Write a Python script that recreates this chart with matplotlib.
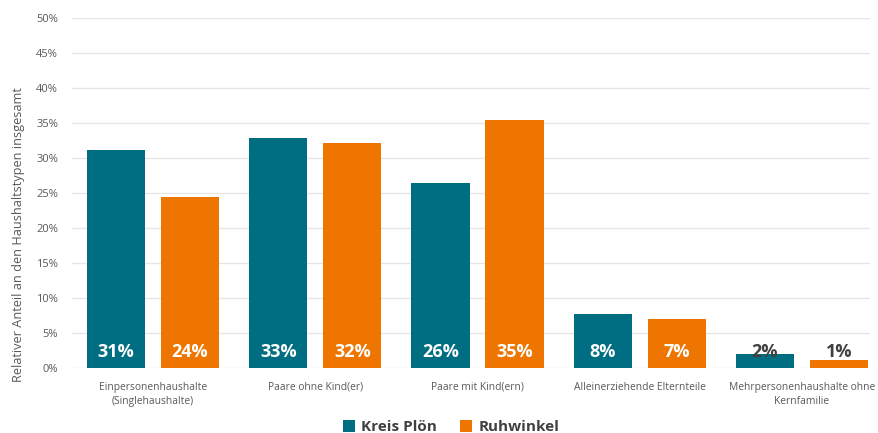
import matplotlib.pyplot as plt
import numpy as np

categories = ['Einpersonenhaushalte\n(Singlehaushalte)', 'Paare ohne Kind(er)',
              'Paare mit Kind(ern)', 'Alleinerziehende Elternteile',
              'Mehrpersonenhaushalte ohne\nKernfamilie']
kreis_ploen = [31.1, 32.9, 26.5, 7.7, 2.0]
ruhwinkel = [24.4, 32.1, 35.4, 7.0, 1.1]
series_names = ['Kreis Plön', 'Ruhwinkel']
colors = ['#006E82', '#EE7600']

plt.rcParams['font.family'] = ['Open Sans', 'DejaVu Sans']

fig = plt.figure(figsize=(8.79, 4.33), dpi=100)
ax = fig.add_axes([72 / 879, 1 - 368 / 433, 798 / 879, 350 / 433])

x = np.arange(len(categories))
offset = 0.228
width = 0.358

for vals, sign, color, name in zip([kreis_ploen, ruhwinkel], [-1, 1], colors, series_names):
    ax.bar(x + sign * offset, vals, width, color=color, label=name, zorder=3)
    for xi, v in zip(x + sign * offset, vals):
        txt_color = 'white' if v > 5 else '#404040'
        ax.text(xi, 2.3, f'{round(v):.0f}%', ha='center', va='center',
                color=txt_color, fontsize=13, fontweight='bold', zorder=4)

ax.set_xlim(-0.5, 4.42)
ax.set_ylim(0, 50)
ax.set_yticks(np.arange(0, 51, 5))
ax.set_yticklabels([f'{t}%' for t in range(0, 51, 5)], fontsize=8, color='#595959')
ax.set_xticks(x)
ax.set_xticklabels(categories, fontsize=7.4, color='#595959', linespacing=1.45)
ax.tick_params(axis='both', length=0)
ax.tick_params(axis='y', pad=10)
ax.tick_params(axis='x', pad=10)
ax.grid(axis='y', color='#E6E6E6', linewidth=1, zorder=0)
for s in ax.spines.values():
    s.set_visible(False)
ax.set_ylabel('Relativer Anteil an den Haushaltstypen insgesamt', fontsize=9.2,
              color='#595959')
ax.yaxis.set_label_coords(-0.059, 0.38)

ax.legend(loc='center', bbox_to_anchor=(451 / 879, 1 - 427 / 433),
          bbox_transform=fig.transFigure, ncol=2, frameon=False,
          handlelength=0.8, handleheight=0.8, handletextpad=0.4, columnspacing=1.5,
          prop={'size': 11, 'weight': 'bold'}, labelcolor='#404040')

plt.savefig('out.png', dpi=100)
plt.close()
